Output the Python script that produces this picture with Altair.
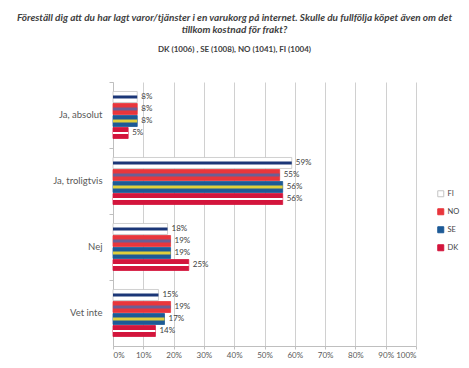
import altair as alt
import pandas as pd

categories = ["Ja, absolut", "Ja, troligtvis", "Nej", "Vet inte"]
countries = ["FI", "NO", "SE", "DK"]
values = {
    "FI": [8, 59, 18, 15],
    "NO": [8, 55, 19, 19],
    "SE": [8, 56, 19, 17],
    "DK": [5, 56, 25, 14],
}
base_colors = ["#ffffff", "#e8363c", "#1d5a96", "#d3153c"]
edge_colors = ["#c4c4c4", "#e8363c", "#1d5a96", "#d3153c"]
stripe_colors = {"FI": "#1b3677", "NO": "#6a5f95", "SE": "#e0cf3c", "DK": "#ffffff"}
stripe_sizes = {"FI": 3, "NO": 3, "SE": 3, "DK": 2}

title_lines = [
    "Föreställ dig att du har lagt varor/tjänster i en varukorg på internet. Skulle du fullfölja köpet även om det",
    "tillkom kostnad för frakt?",
]
subtitle = "DK (1006) , SE (1008), NO (1041), FI (1004)"

rows = []
for c in countries:
    for i, cat in enumerate(categories):
        rows.append({"cat": cat, "country": c, "value": values[c][i],
                     "stripe": stripe_colors[c], "ssize": stripe_sizes[c],
                     "label": f"{values[c][i]}%"})
df = pd.DataFrame(rows)

FONT = "Lato"

y = alt.Y("cat:N", sort=categories, title=None,
          scale=alt.Scale(paddingInner=0, paddingOuter=0),
          axis=alt.Axis(labelFontSize=9.5, labelColor="#595959", labelFont=FONT,
                        labelPadding=7, domainColor="#bfbfbf", tickColor="#bfbfbf",
                        tickSize=4, bandPosition=0))
yoff = alt.YOffset("country:N", sort=countries,
                   scale=alt.Scale(domain=countries, paddingInner=0.083, paddingOuter=0.79))
x = alt.X("value:Q", title=None,
          scale=alt.Scale(domain=[0, 100], nice=False),
          axis=alt.Axis(values=list(range(0, 101, 10)), labelExpr="datum.value + '%'",
                        labelFontSize=8, labelColor="#595959", labelFont=FONT,
                        gridColor="#d0d0d0", domainColor="#bfbfbf", tickColor="#bfbfbf",
                        tickSize=3, labelPadding=2))

legend = alt.Legend(title=None, orient="none", legendX=324, legendY=108,
                    symbolType="square", symbolSize=36, labelFontSize=7.5,
                    labelFont=FONT, labelColor="#404040", rowPadding=7,
                    padding=0, symbolStrokeWidth=1, labelOffset=3)

base = alt.Chart(df).mark_bar(size=11, strokeWidth=0.8).encode(
    y=y, yOffset=yoff, x=x,
    color=alt.Color("country:N", sort=countries,
                    scale=alt.Scale(domain=countries, range=base_colors), legend=legend),
    stroke=alt.Stroke("country:N", sort=countries,
                      scale=alt.Scale(domain=countries, range=edge_colors), legend=legend),
)

stripe = alt.Chart(df).mark_bar().encode(
    y=y, yOffset=yoff, x=x,
    color=alt.Color("stripe:N", scale=None),
    size=alt.Size("ssize:Q", scale=None),
)

text = alt.Chart(df).mark_text(align="left", baseline="middle", dx=4,
                               fontSize=8, font=FONT, color="#404040").encode(
    y=y, yOffset=yoff, x=x, text="label:N",
)

chart = alt.layer(base, stripe, text).properties(
    width=303, height=264,
    autosize=alt.AutoSizeParams(type="none"),
    padding={"left": 105, "top": 74, "right": 45, "bottom": 14},
    title=alt.TitleParams(
        text=title_lines, subtitle=subtitle, anchor="middle", dx=-30, offset=28,
        font=FONT, fontSize=10, fontStyle="italic", fontWeight="bold", color="#404040",
        lineHeight=12, subtitleFont=FONT, subtitleFontSize=8, subtitleColor="#404040",
        subtitleFontWeight="bold", subtitlePadding=11,
    ),
).configure_view(stroke=None)

chart.save("out.html", embed_options={"renderer": "svg", "actions": False})
